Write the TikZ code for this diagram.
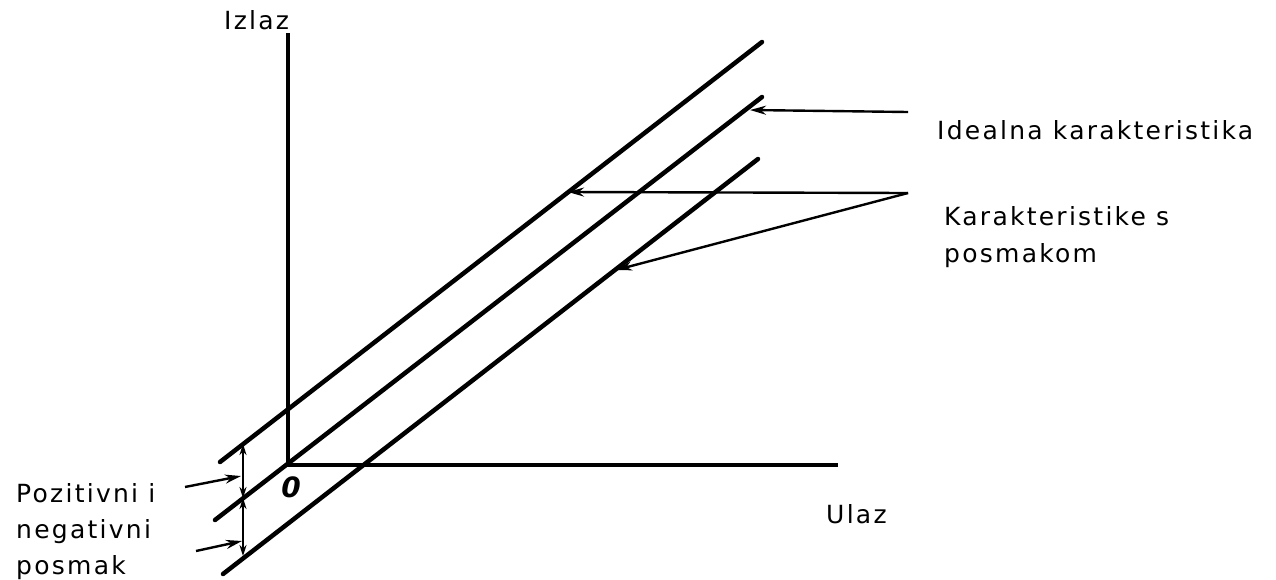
\documentclass[tikz,border=0pt]{standalone}
\usepackage{fontspec}
\setmainfont{DejaVu Sans}[LetterSpace=9]
\usetikzlibrary{arrows.meta}
\begin{document}
\begin{tikzpicture}[x=1pt,y=-1pt,
  thickline/.style={line width=4.5pt,line cap=round},
  axisline/.style={line width=3.8pt},
  leader/.style={line width=2.4pt,-{Stealth[length=16pt,width=9pt]}},
  dim/.style={line width=2.4pt,{Stealth[length=11pt,width=7pt]}-{Stealth[length=11pt,width=7pt]}},
  lbl/.style={anchor=base west,inner sep=0pt,font=\fontsize{25}{35}\selectfont,align=left}]
\useasboundingbox (0,0) rectangle (1276,579);
% axes
\coordinate (O) at (288,465);
\coordinate (Ytop) at (288,33);
\coordinate (Xend) at (838,465);
\draw[axisline] (Ytop) -- (O) -- (Xend);
% characteristic lines
\coordinate (Ta) at (220,462); \coordinate (Tb) at (762,42);
\coordinate (Ma) at (215,520); \coordinate (Mb) at (762,97);
\coordinate (Ba) at (223,574); \coordinate (Bb) at (758,159);
\draw[thickline] (Ta) -- (Tb);
\draw[thickline] (Ma) -- (Mb);
\draw[thickline] (Ba) -- (Bb);
% offset dimension
\coordinate (D1) at (243,444);
\coordinate (D2) at (243,498);
\coordinate (D3) at (243,556);
\draw[dim] (D1) -- (D2);
\draw[dim] (D2) -- (D3);
% labels
\node[lbl] (izlaz) at (224,29) {Izlaz};
\node[lbl] (ulaz) at (826,523) {Ulaz};
\node[lbl] (ideal) at (937,139) {Idealna karakteristika};
\node[lbl,font=\fontsize{25}{37}\selectfont] (kar) at (944,262) {Karakteristike s\\posmakom};
\node[lbl,font=\fontsize{25}{36}\selectfont] (poz) at (16,574) {Pozitivni i\\negativni\\posmak};
\node[anchor=center,inner sep=0pt,font=\fontsize{28}{28}\selectfont\bfseries\itshape] (zero) at (291,487) {0};
% leaders
\coordinate (Ls1) at (908,112); \coordinate (Le1) at (750,110);
\coordinate (Ls2) at (908,193); \coordinate (Le2) at (568,192);
\coordinate (Le3) at (616,270);
\coordinate (Lp1) at (185,487); \coordinate (Lq1) at (241,476);
\coordinate (Lp2) at (196,551); \coordinate (Lq2) at (242,541);
\draw[leader] (Ls1) -- (Le1);
\draw[leader] (Ls2) -- (Le2);
\draw[leader,line join=round] (Ls2) -- (Le3);
\draw[leader] (Lp1) -- (Lq1);
\draw[leader] (Lp2) -- (Lq2);
\end{tikzpicture}
\end{document}
